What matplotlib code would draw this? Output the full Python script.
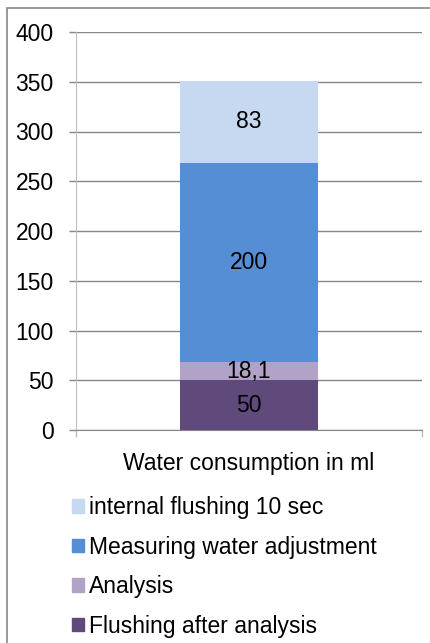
import matplotlib.pyplot as plt
from matplotlib.patches import Patch, Rectangle

plt.rcParams["font.family"] = ["Liberation Sans", "DejaVu Sans"]

# stacked from the bottom up
series = ["Flushing after analysis", "Analysis", "Measuring water adjustment", "internal flushing 10 sec"]
values = [50, 18.1, 200, 83]
labels = ["50", "18,1", "200", "83"]
colors = ["#604A7B", "#B3A2C7", "#558ED5", "#C6D9F1"]
category = "Water consumption in ml"
yticks = [0, 50, 100, 150, 200, 250, 300, 350, 400]

FS = 16.5
W, H = 430, 643
fig = plt.figure(figsize=(W / 100, H / 100), dpi=100)
ax = fig.add_axes([76 / W, 1 - 430 / H, 346 / W, 398 / H])

bottom = 0
for name, v, lab, c in zip(series, values, labels, colors):
    ax.bar(0, v, bottom=bottom, width=0.4, color=c, label=name, zorder=3)
    ax.text(0, bottom + v / 2, lab, ha="center", va="center", fontsize=FS, color="black", zorder=4)
    bottom += v

ax.set_xlim(-0.5, 0.5)
ax.set_ylim(0, 400)
ax.set_yticks(yticks)
ax.yaxis.grid(True, color="#868686", lw=1, zorder=0)
ax.tick_params(axis="y", length=5, color="#868686", labelsize=FS, pad=11, width=1)
ax.set_xticks([-0.5, 0.5])
ax.set_xticklabels([])
ax.tick_params(axis="x", length=5, color="#BFBFBF", width=1)
ax.text(0, -34, category, ha="center", va="center", fontsize=FS)

for s in ["top", "right"]:
    ax.spines[s].set_visible(False)
ax.spines["left"].set_color("#BFBFBF")
ax.spines["bottom"].set_color("#868686")

handles = [Patch(color=c, label=n) for n, c in zip(series, colors)][::-1]
fig.legend(handles=handles, loc="upper left", bbox_to_anchor=(63 / W, 1 - 487 / H),
           frameon=False, fontsize=FS, handlelength=0.5, handleheight=0.55,
           handletextpad=0.25, labelspacing=0.72, borderaxespad=0)

# outer chart border
fig.patches.append(Rectangle((7 / W, -0.1), 1.2, 1 - 8 / H + 0.1, transform=fig.transFigure,
                             fill=False, edgecolor="#888888", lw=1.2))

fig.savefig("out.png", dpi=100, facecolor="white")
